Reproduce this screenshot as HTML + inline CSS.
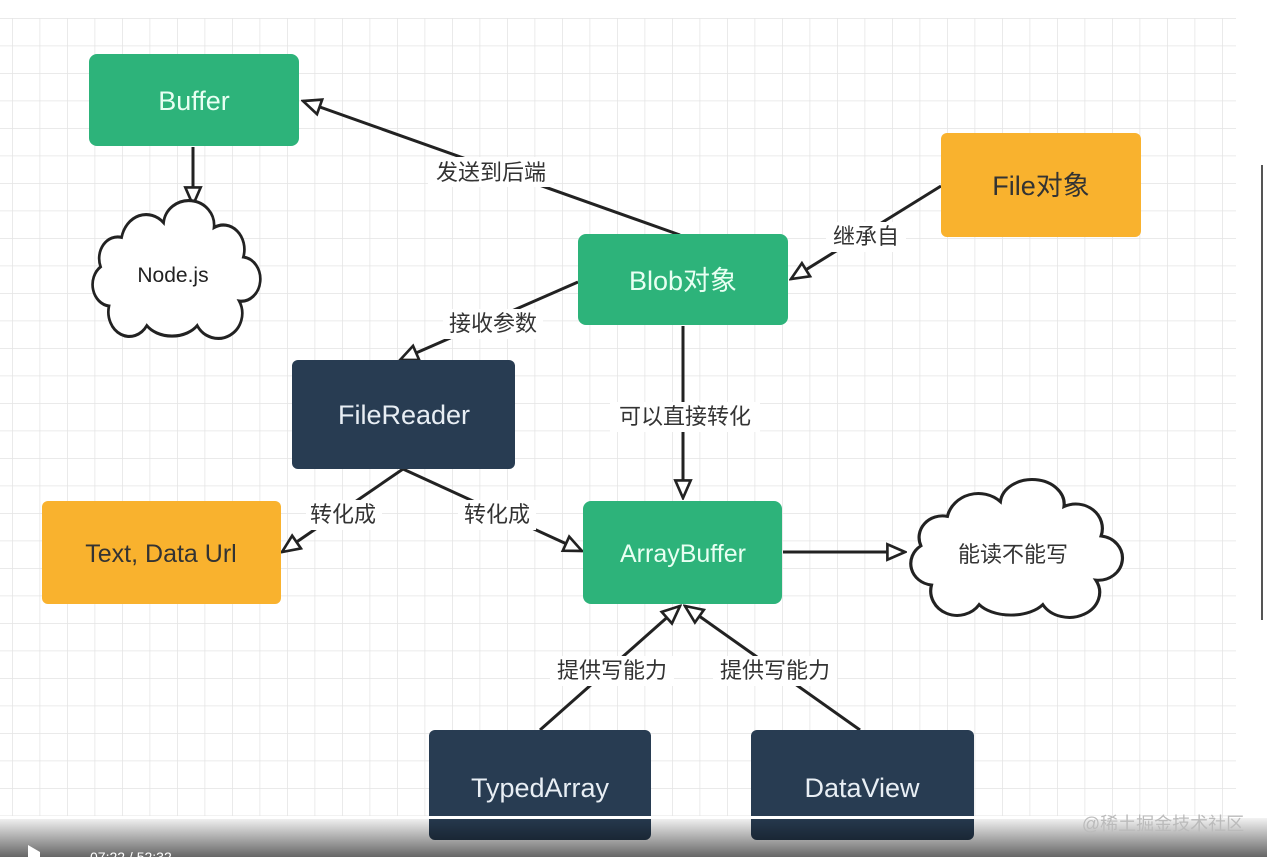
<!DOCTYPE html>
<html><head><meta charset="utf-8"><style>
html,body{margin:0;padding:0;width:1267px;height:857px;overflow:hidden;background:#fff;}
svg{display:block;}
text{font-family:"Liberation Sans","Noto Sans CJK SC",sans-serif;}
</style></head><body>
<svg width="1267" height="857" viewBox="0 0 1267 857" xmlns="http://www.w3.org/2000/svg">
<defs>
<pattern id="g" x="12" y="18" width="27.5" height="27.5" patternUnits="userSpaceOnUse">
<path d="M0 0H27.5M0 0V27.5" stroke="#e4e4e4" stroke-width="1.5" fill="none"/>
</pattern>
<marker id="a" viewBox="0 0 20 20" refX="18" refY="10" markerWidth="22" markerHeight="22" markerUnits="userSpaceOnUse" orient="auto">
<path d="M2 3L18 10L2 17Z" fill="#fff" stroke="#222" stroke-width="2.4"/>
</marker>
<path id="cl" d="M40 30A30 30 0 0 1 90 15A30 25 0 0 1 150 20A25 25 0 0 1 185 50A22 22 0 0 1 180 95A28 25 0 0 1 130 120A35 22 0 0 1 70 120A25 25 0 0 1 25 100A22 22 0 0 1 15 60A22 22 0 0 1 40 30Z"/>
</defs>
<rect x="0" y="18" width="1236" height="800" fill="url(#g)"/>
<line x1="1262" y1="165" x2="1262" y2="620" stroke="#555" stroke-width="2"/>

<g stroke="#222" stroke-width="3" fill="none" marker-end="url(#a)">
<line x1="680" y1="235" x2="303" y2="101"/>
<line x1="193" y1="147" x2="193" y2="205"/>
<line x1="941" y1="186" x2="791" y2="279"/>
<line x1="578" y1="282" x2="400" y2="360"/>
<line x1="683" y1="326" x2="683" y2="498"/>
<line x1="403" y1="469" x2="282" y2="552"/>
<line x1="403" y1="469" x2="582" y2="551"/>
<line x1="783" y1="552" x2="905" y2="552"/>
<line x1="540" y1="730" x2="680" y2="606"/>
<line x1="860" y1="730" x2="685" y2="606"/>
</g>

<g font-size="22" fill="#333" text-anchor="middle">
<rect x="428" y="157" width="126" height="30" fill="#fff"/><text x="491" y="180">发送到后端</text>
<rect x="826" y="222" width="80" height="30" fill="#fff"/><text x="866" y="244">继承自</text>
<rect x="443" y="309" width="100" height="30" fill="#fff"/><text x="493" y="331">接收参数</text>
<rect x="610" y="402" width="150" height="30" fill="#fff"/><text x="685" y="424">可以直接转化</text>
<rect x="306" y="500" width="76" height="30" fill="#fff"/><text x="343" y="522">转化成</text>
<rect x="458" y="500" width="78" height="30" fill="#fff"/><text x="497" y="522">转化成</text>
<rect x="550" y="656" width="124" height="30" fill="#fff"/><text x="612" y="678">提供写能力</text>
<rect x="713" y="656" width="124" height="30" fill="#fff"/><text x="775" y="678">提供写能力</text>
</g>

<g font-size="27" text-anchor="middle">
<rect x="89" y="54" width="210" height="92" rx="8" fill="#2db37a"/><text x="194" y="110" fill="#e8fff2">Buffer</text>
<rect x="578" y="234" width="210" height="91" rx="8" fill="#2db37a"/><text x="683" y="290" fill="#e8fff2">Blob对象</text>
<rect x="941" y="133" width="200" height="104" rx="6" fill="#f9b22e"/><text x="1041" y="195" fill="#333">File对象</text>
<rect x="292" y="360" width="223" height="109" rx="6" fill="#283c52"/><text x="404" y="424" fill="#e8eef4">FileReader</text>
<rect x="42" y="501" width="239" height="103" rx="6" fill="#f9b22e"/><text x="161" y="562" fill="#333" font-size="25">Text, Data Url</text>
<rect x="583" y="501" width="199" height="103" rx="8" fill="#2db37a"/><text x="683" y="562" fill="#e8fff2" font-size="25">ArrayBuffer</text>
<rect x="429" y="730" width="222" height="110" rx="6" fill="#283c52"/><text x="540" y="797" fill="#e8eef4">TypedArray</text>
<rect x="751" y="730" width="223" height="110" rx="6" fill="#283c52"/><text x="862" y="797" fill="#e8eef4">DataView</text>
</g>

<use href="#cl" transform="translate(88,208) scale(0.84,0.98)" fill="#fff" stroke="#222" stroke-width="3.2"/>
<text x="173" y="282" font-size="21" fill="#222" text-anchor="middle">Node.js</text>
<use href="#cl" transform="translate(905,487) scale(1.06,0.98)" fill="#fff" stroke="#222" stroke-width="3"/>
<text x="1013" y="562" font-size="22" fill="#333" text-anchor="middle">能读不能写</text>

<defs><linearGradient id="bb" x1="0" y1="0" x2="0" y2="1"><stop offset="0" stop-color="#000" stop-opacity="0.05"/><stop offset="1" stop-color="#000" stop-opacity="0.6"/></linearGradient></defs>
<rect x="0" y="818" width="1267" height="39" fill="url(#bb)"/>
<rect x="0" y="816" width="1200" height="3" fill="#fff"/>
<text x="1163" y="830" font-size="18" fill="#bbb" text-anchor="middle">@稀土掘金技术社区</text>
<path d="M28 845L40 852V857H28Z" fill="#fff"/>
<text x="90" y="862" font-size="14" fill="#fff">07:22 / 52:32</text>
</svg>
</body></html>
